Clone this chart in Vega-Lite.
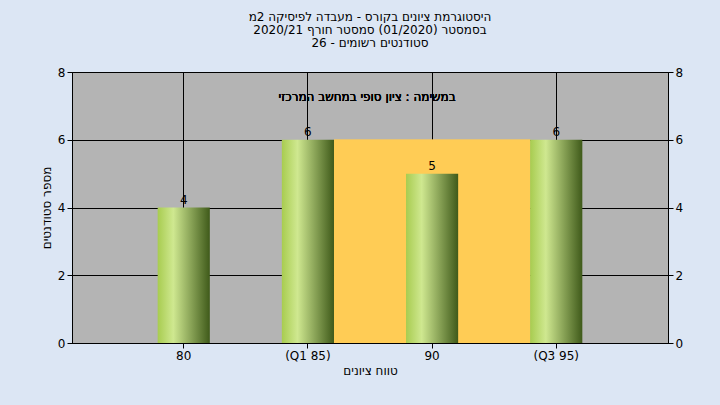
{
  "$schema": "https://vega.github.io/schema/vega-lite/v6.json",
  "width": 596,
  "height": 271,
  "autosize": "none",
  "padding": {"left": 72, "top": 72, "right": 52, "bottom": 62},
  "background": "#dce6f4",
  "title": {
    "text": ["היסטוגרמת ציונים בקורס - מעבדה לפיסיקה 2מ", "בסמסטר  (01/2020)  סמסטר חורף  2020/21", "סטודנטים רשומים - 26"],
    "fontSize": 12, "fontWeight": "normal", "font": "DejaVu Sans", "lineHeight": 13, "offset": 16, "color": "#000"
  },
  "data": {"values": [
    {"grade": "80", "count": 4},
    {"grade": "(Q1 85)", "count": 6},
    {"grade": "90", "count": 5},
    {"grade": "(Q3 95)", "count": 6}
  ]},
  "encoding": {
    "x": {"field": "grade", "type": "nominal",
      "scale": {"domain": ["80", "(Q1 85)", "90", "(Q3 95)"], "paddingInner": 0.58, "paddingOuter": 0.69},
      "axis": {"title": "טווח ציונים", "labelAngle": 0, "grid": true, "gridColor": "#000", "gridOpacity": 1, "bandPosition": 0.5, "labelFontSize": 12, "titleFontSize": 12, "titleFontWeight": "normal", "labelColor": "#000", "titleColor": "#000", "tickColor": "#000", "domainColor": "#000", "zindex": 0}}
  },
  "layer": [
    {
      "mark": {"type": "rect", "color": "#ffcc55"},
      "encoding": {
        "x": {"datum": "(Q1 85)", "bandPosition": 1},
        "x2": {"datum": "(Q3 95)", "bandPosition": 0},
        "y": {"datum": 0, "type": "quantitative", "axis": null},
        "y2": {"datum": 6}
      }
    },
    {
      "mark": {"type": "bar", "width": {"band": 1}, "fill": {"gradient": "linear", "x1": 0, "x2": 1, "y1": 0, "y2": 0, "stops": [{"offset": 0, "color": "#a8cc50"}, {"offset": 0.3, "color": "#cfe890"}, {"offset": 1, "color": "#3f5a1a"}]}},
      "encoding": {
        "y": {"field": "count", "type": "quantitative", "scale": {"domain": [0, 8]},
          "axis": {"title": "מספר סטודנטים", "values": [0, 2, 4, 6, 8], "grid": true, "gridColor": "#000", "labelFontSize": 12, "titleFontSize": 12, "titleFontWeight": "normal", "labelColor": "#000", "titleColor": "#000", "tickColor": "#000", "domainColor": "#000", "zindex": 0}}
      }
    },
    {
      "mark": {"type": "text", "dy": -8, "fontSize": 12, "color": "#000"},
      "encoding": {
        "y": {"field": "count", "type": "quantitative", "axis": {"orient": "right", "title": null, "values": [0, 2, 4, 6, 8], "grid": false, "labelFontSize": 12, "labelColor": "#000", "tickColor": "#000", "domainColor": "#000"}},
        "text": {"field": "count"}
      }
    },
    {
      "mark": {"type": "text", "fontSize": 12, "fontWeight": "normal", "color": "#000", "dx": -65},
      "encoding": {
        "x": {"datum": "90"},
        "y": {"datum": 7.25, "type": "quantitative", "axis": null},
        "text": {"value": "במשימה : ציון סופי במחשב המרכזי"}
      }
    }
  ],
  "resolve": {"axis": {"y": "independent"}},
  "config": {"view": {"fill": "#b4b4b4", "stroke": "#000"}, "font": "DejaVu Sans"}
}
